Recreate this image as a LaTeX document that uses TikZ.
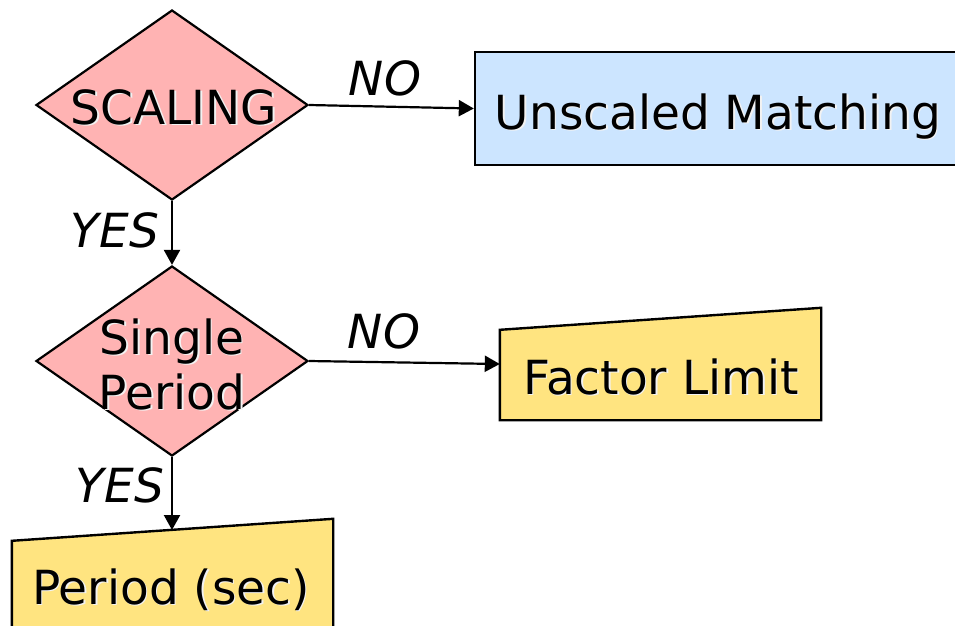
\documentclass[tikz,border=0pt]{standalone}
\usepackage{fontspec}
\setmainfont{DejaVu Sans}
\usetikzlibrary{shapes.geometric,arrows.meta}

\definecolor{decpink}{HTML}{FFB3B3}
\definecolor{termblue}{HTML}{CCE5FF}
\definecolor{inyellow}{HTML}{FFE480}

% text with a soft white shadow below right
\newcommand\glow[1]{\leavevmode\rlap{\kern1.6pt\raisebox{-1.6pt}{\textcolor{white!90!gray}{#1}}}#1}

\begin{document}
\begin{tikzpicture}[x=1pt,y=-1pt,
  big/.style={font=\fontsize{47}{57}\selectfont},
  decision/.style={shape=diamond, draw, fill=decpink, line width=2.2pt,
    inner sep=0pt, minimum width=272pt, minimum height=190pt},
  procbox/.style={shape=rectangle, draw, fill=termblue, line width=2.4pt,
    inner sep=0pt},
  ghost/.style={shape=rectangle, inner sep=0pt},
  inshape/.style={draw, fill=inyellow, line width=2.4pt},
  lbl/.style={font=\fontsize{47}{57}\selectfont\itshape, anchor=base},
  txt/.style={big, anchor=base, inner sep=0pt},
  flow/.style={line width=2.2pt, -{Triangle[length=15pt,width=16pt]}}]

\useasboundingbox (0,0) rectangle (955,625);
\clip (0,0) rectangle (955,625);

% decisions
\node[decision] (d1) at (172,105) {};
\node[decision] (d2) at (172,361) {};

% unscaled matching box, running off the right edge
\node[procbox, minimum width=492pt, minimum height=113pt] (um) at (721,108.5) {};

% manual input shapes (sloped top edge)
\node[ghost, minimum width=321pt, minimum height=112pt] (fl) at (660.5,364) {};
\draw[inshape] (fl.south west) -- (fl.south east) -- (fl.north east)
  -- ([yshift=-22pt]fl.north west) -- cycle;

\node[ghost, minimum width=321pt, minimum height=130pt] (ps) at (172.5,584) {};
\draw[inshape] (ps.south west) -- (ps.south east) -- (ps.north east)
  -- ([yshift=-22pt]ps.north west) -- cycle;
\coordinate (pstop) at (172,530);

% texts
\node[txt] (t1) at (174,124) {\glow{SCALING}};
\node[txt] (t2) at (172,354) {\glow{Single}};
\node[txt] (t3) at (172,409) {\glow{Period}};
\node[txt] (t4) at (718,129) {\glow{Unscaled Matching}};
\node[txt] (t5) at (661,394) {\glow{Factor Limit}};
\node[txt] (t6) at (171,604) {\glow{Period (sec)}};

% connectors
\draw[flow] (d1.east) -- (um.west);
\draw[flow] (d2.east) -- (fl.west);
\draw[flow] (d1.south) -- (d2.north);
\draw[flow] (d2.south) -- (pstop);

% branch labels
\node[lbl] (n1) at (385,95) {NO};
\node[lbl] (n2) at (384,348) {NO};
\node[lbl] (y1) at (115,247) {YES};
\node[lbl] (y2) at (120,502) {YES};
\end{tikzpicture}
\end{document}
